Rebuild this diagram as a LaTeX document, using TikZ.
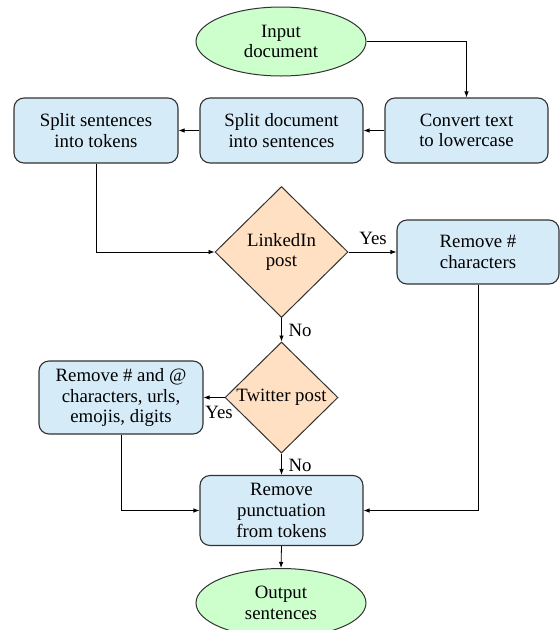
\documentclass[tikz,border=0pt]{standalone}
\usepackage{fontspec}
\setmainfont{Liberation Serif}
\usetikzlibrary{shapes.geometric,arrows.meta}
\definecolor{tgreen}{RGB}{204,255,204}
\definecolor{tblue}{RGB}{214,235,248}
\definecolor{torange}{RGB}{255,224,194}
\definecolor{tborder}{RGB}{50,50,50}
\tikzset{
  txt/.style={font=\fontsize{18.8}{20.7}\selectfont, align=center},
  term/.style={txt, ellipse, draw=tborder, line width=1pt, fill=tgreen, minimum width=170pt, minimum height=69pt, inner sep=0pt},
  proc/.style={txt, rectangle, rounded corners=10pt, draw=tborder, line width=1.1pt, fill=tblue, minimum width=163pt, inner sep=0pt},
  dia/.style={diamond, draw=tborder, line width=1pt, fill=torange, inner sep=0pt},
  arr/.style={draw, line width=0.8pt, -{Latex[length=6pt,width=4.5pt]}},
  lbl/.style={txt, inner sep=0pt}
}
\begin{document}
\begin{tikzpicture}[x=1pt,y=-1pt]
\useasboundingbox (0,0) rectangle (560,630);
\node[term] (in) at (281,41.5) {Input\\document};
\node[proc, minimum height=65pt] (conv) at (466.5,130.5) {Convert text\\to lowercase};
\node[proc, minimum height=65pt] (sd) at (281.5,130.5) {Split document\\into sentences};
\node[proc, minimum height=65pt, minimum width=164pt] (ss) at (96,130.5) {Split sentences\\into tokens};
\node[dia, minimum width=133pt, minimum height=131pt] (li) at (281.5,252) {};
\node[lbl] (lit) at (li) {LinkedIn\\post};
\node[proc, minimum height=64pt, minimum width=162pt] (rh) at (478,252) {Remove \#\\characters};
\node[dia, minimum width=113pt, minimum height=111pt] (tw) at (281.5,397.5) {};
\node[lbl] (twt) at (tw) {Twitter post};
\node[proc, minimum height=73pt, minimum width=164pt] (rha) at (121,397.5) {Remove \# and @\\characters, urls,\\emojis, digits};
\node[proc, minimum height=70pt] (rp) at (281.5,510.5) {Remove\\punctuation\\from tokens};
\node[term] (out) at (281,603) {Output\\sentences};
\node[lbl] (y1) at (373,238) {Yes};
\node[lbl] (n1) at (300,330) {No};
\node[lbl] (y2) at (219,412) {Yes};
\node[lbl] (n2) at (300,465) {No};
\draw[arr] (in.east) -| (conv.north);
\draw[arr] (conv.west) -- (sd.east);
\draw[arr] (sd.west) -- (ss.east);
\draw[arr] (ss.south) |- (li.west);
\draw[arr] (li.east) -- (rh.west);
\draw[arr] (li.south) -- (tw.north);
\draw[arr] (tw.west) -- (rha.east);
\draw[arr] (tw.south) -- (rp.north);
\draw[arr] (rh.south) |- (rp.east);
\draw[arr] (rha.south) |- (rp.west);
\draw[arr] (rp.south) -- (out.north);
\end{tikzpicture}
\end{document}
